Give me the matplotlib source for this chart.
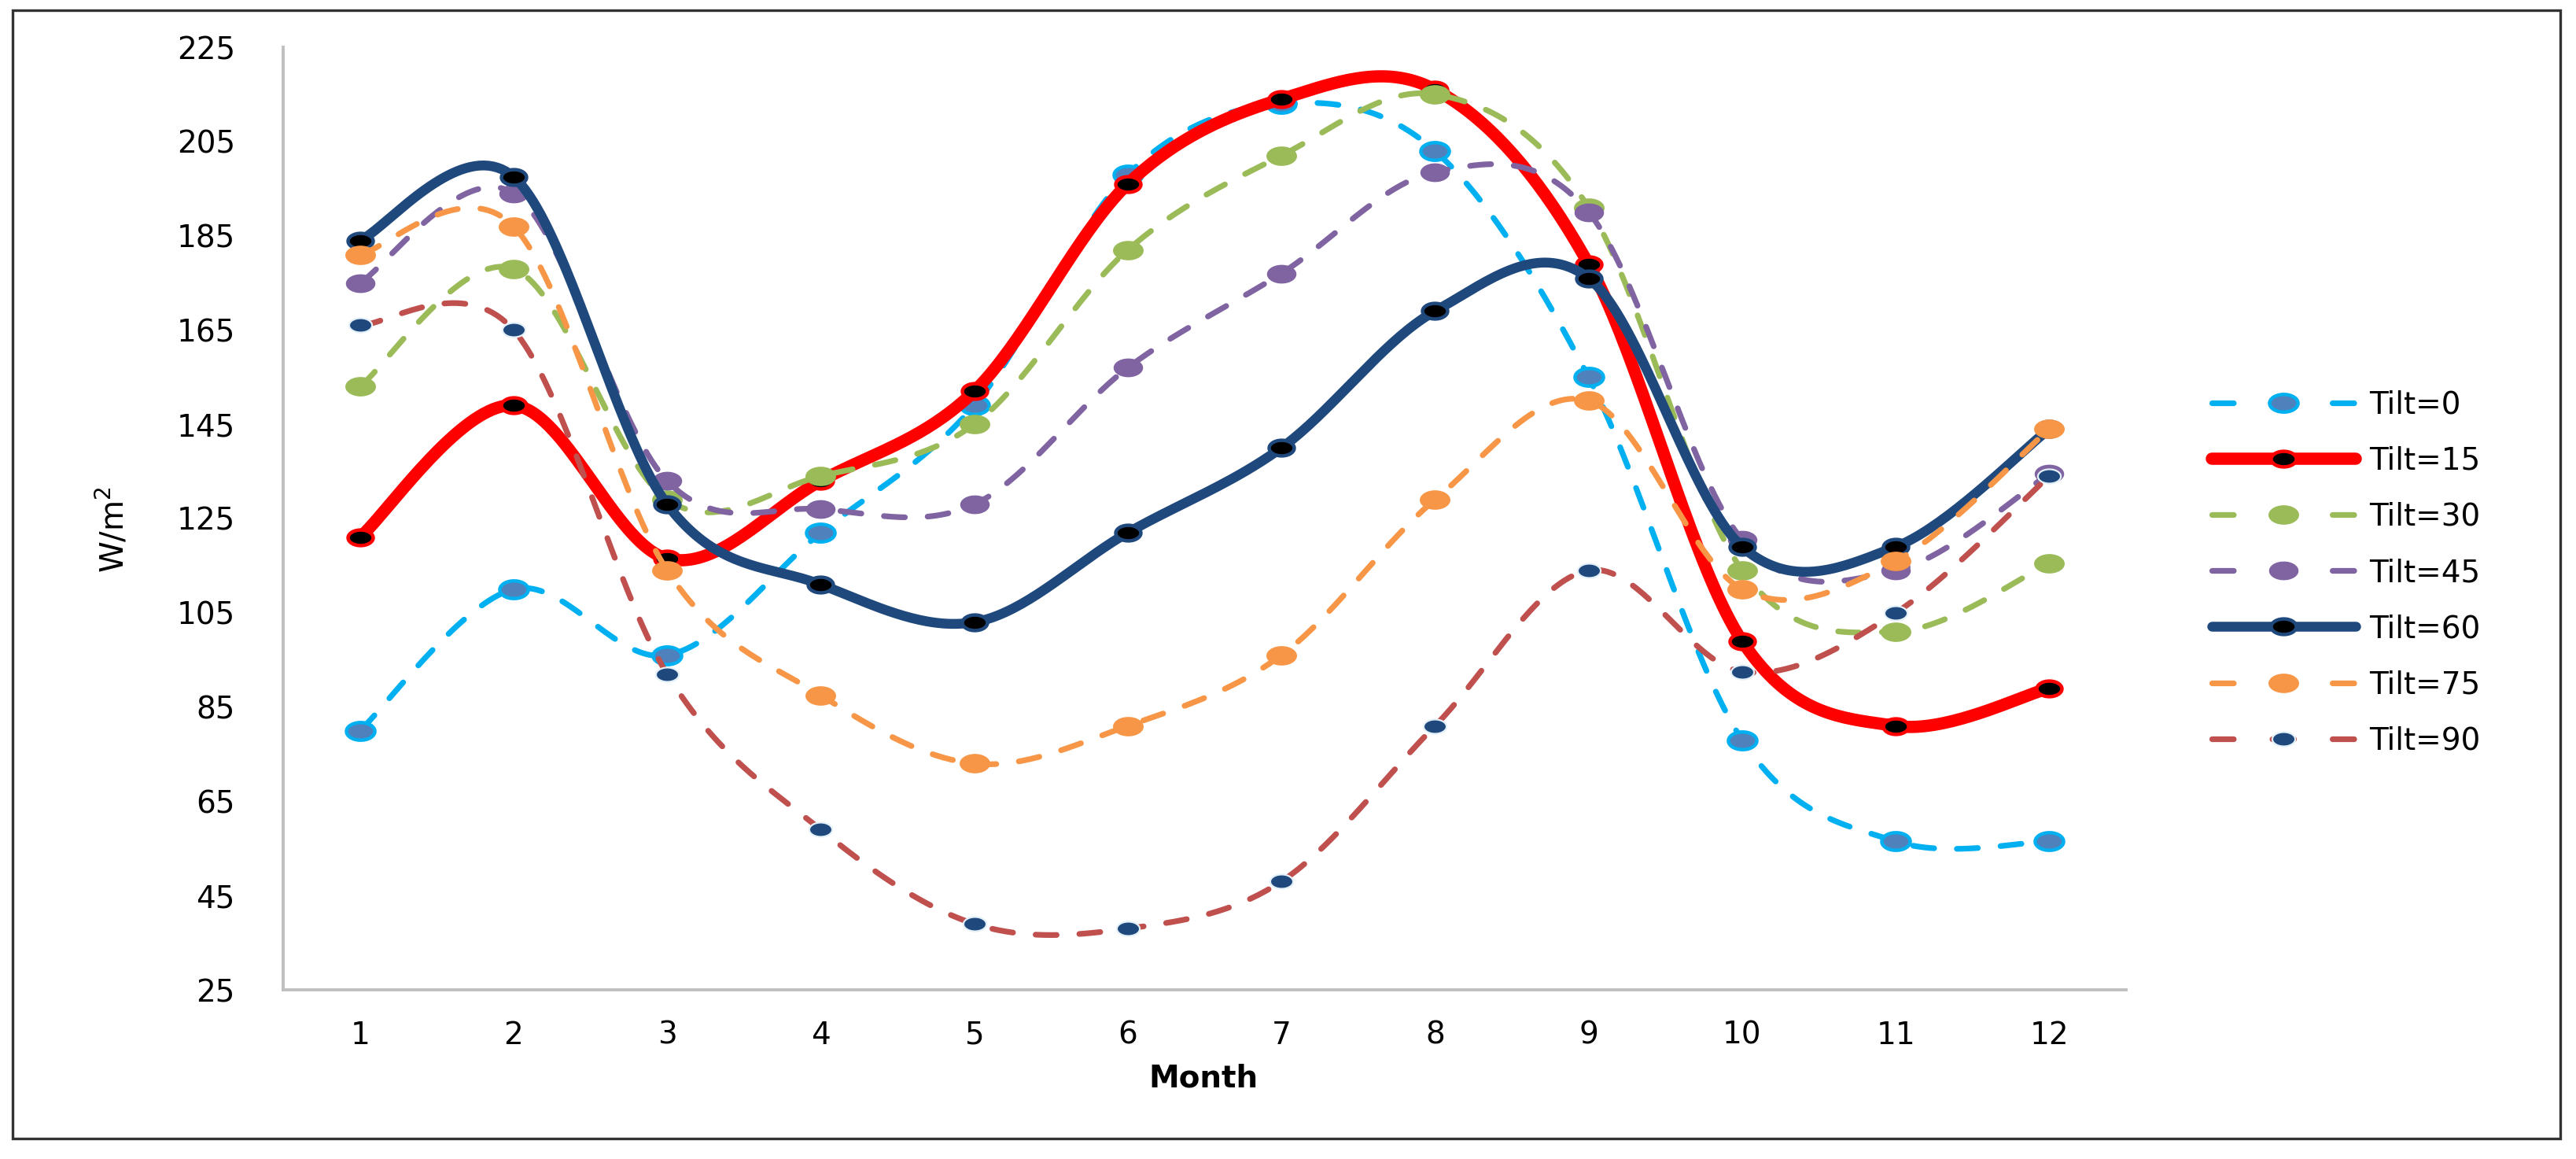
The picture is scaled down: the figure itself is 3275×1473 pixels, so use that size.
import numpy as np
import matplotlib
matplotlib.use("Agg")
import matplotlib.pyplot as plt
from matplotlib.lines import Line2D
from matplotlib.path import Path
from matplotlib.patches import Rectangle

# ---------------- data ----------------
months = [1, 2, 3, 4, 5, 6, 7, 8, 9, 10, 11, 12]
month_labels = [str(m) for m in months]
tilt_0 = [80, 110, 96, 122, 149, 198, 213, 203, 155, 78, 56.5, 56.5]
tilt_15 = [121, 149, 116.5, 133, 152, 196, 214, 216, 179, 99, 81, 89]
tilt_30 = [153, 178, 129, 134, 145, 182, 202, 215, 191, 114, 101, 115.5]
tilt_45 = [175, 194, 133, 127, 128, 157, 177, 198.5, 190, 120.5, 114, 134.5]
tilt_60 = [184, 197.5, 128, 111, 103, 122, 140, 169, 176, 119, 119, 144]
tilt_75 = [181, 187, 114, 87.5, 73, 81, 96, 129, 150, 110, 116, 144]
tilt_90 = [166, 165, 92, 59, 39, 38, 48, 81, 114, 92.5, 105, 134]
series_names = ["Tilt=0", "Tilt=15", "Tilt=30", "Tilt=45", "Tilt=60", "Tilt=75", "Tilt=90"]
y_ticks = [25, 45, 65, 85, 105, 125, 145, 165, 185, 205, 225]

series = [tilt_0, tilt_15, tilt_30, tilt_45, tilt_60, tilt_75, tilt_90]

# style per series: line colour, lw, dashed, marker face, marker edge, ms, mew
styles = [
    dict(color="#00B0F0", lw=2.6, dashed=True, mfc="#4F81BD", mec="#00B0F0", ms=13.0, mew=1.6),
    dict(color="#FF0000", lw=5.6, dashed=False, mfc="#000000", mec="#FF0000", ms=11.5, mew=1.6),
    dict(color="#9BBB59", lw=2.6, dashed=True, mfc="#9BBB59", mec="#9BBB59", ms=13.5, mew=0.5),
    dict(color="#8064A2", lw=2.6, dashed=True, mfc="#8064A2", mec="#8064A2", ms=13.0, mew=0.5),
    dict(color="#1F497D", lw=4.5, dashed=False, mfc="#000000", mec="#1F497D", ms=11.5, mew=1.6),
    dict(color="#F79646", lw=2.6, dashed=True, mfc="#F79646", mec="#F79646", ms=13.5, mew=0.5),
    dict(color="#C0504D", lw=2.6, dashed=True, mfc="#1F497D", mec="#E4F0F8", ms=10.5, mew=0.8),
]

# elliptical marker (the reference image is horizontally stretched)
theta = np.linspace(0, 2 * np.pi, 60)
ell_verts = np.column_stack([np.cos(theta), 0.62 * np.sin(theta)])
ellipse_marker = Path(ell_verts, closed=True)


def smooth_curve(x, y, n=40):
    """Excel-like smoothed line: Catmull-Rom cubic Bezier through the points."""
    x = np.asarray(x, float)
    y = np.asarray(y, float)
    P = np.column_stack([x, y])
    Pe = np.vstack([P[0], P, P[-1]])
    t = np.linspace(0, 1, n)[:, None]
    pts = []
    for i in range(len(P) - 1):
        p0 = Pe[i + 1]
        p3 = Pe[i + 2]
        c1 = p0 + (Pe[i + 2] - Pe[i]) / 6.0
        c2 = p3 - (Pe[i + 3] - Pe[i + 1]) / 6.0
        seg = ((1 - t) ** 3) * p0 + 3 * ((1 - t) ** 2) * t * c1 + 3 * (1 - t) * t ** 2 * c2 + t ** 3 * p3
        pts.append(seg if i == 0 else seg[1:])
    pts = np.vstack(pts)
    return pts[:, 0], pts[:, 1]


W, H = 3275, 1473
DPI = 200
fig = plt.figure(figsize=(W / DPI, H / DPI), dpi=DPI)
fig.patch.set_facecolor("white")

ax = fig.add_axes([360 / W, (H - 1258) / H, (2703 - 360) / W, (1258 - 60) / H])
ax.set_xlim(0.5, 12.5)
ax.set_ylim(25, 225)

handles = []
for k, (vals, st, name) in enumerate(zip(series, styles, series_names)):
    xs, ys = smooth_curve(months, vals)
    if st["dashed"]:
        ls_kw = dict(linestyle=(0, (3.7, 4.0)), dash_capstyle="round")
        leg_kw = dict(linestyle=(0, (3.8, 6.8)), dash_capstyle="round")
    else:
        ls_kw = dict(linestyle="-", solid_capstyle="round")
        leg_kw = ls_kw
    z = 3 + k
    ax.plot(xs, ys, color=st["color"], lw=st["lw"], zorder=z, **ls_kw)
    ax.plot(months, vals, linestyle="none", marker=ellipse_marker, ms=st["ms"],
            mfc=st["mfc"], mec=st["mec"], mew=st["mew"], zorder=z + 0.5)
    handles.append(Line2D([0], [0], color=st["color"], lw=st["lw"], marker=ellipse_marker,
                          ms=st["ms"], mfc=st["mfc"], mec=st["mec"], mew=st["mew"], **leg_kw))

ax.set_xticks(months)
ax.set_xticklabels(month_labels)
ax.set_yticks(y_ticks)
ax.tick_params(axis="both", length=0, labelsize=14, colors="#000000")
ax.tick_params(axis="x", pad=14)
ax.tick_params(axis="y", pad=22)
for s in ["top", "right"]:
    ax.spines[s].set_visible(False)
for s in ["left", "bottom"]:
    ax.spines[s].set_color("#BFBFBF")
    ax.spines[s].set_linewidth(1.4)

fig.text(144 / W, 1 - 673 / H, "W/m$^2$", rotation=90, ha="center", va="center", fontsize=14.5)
fig.text(1530 / W, 1 - 1371 / H, "Month", ha="center", va="center", fontsize=14, fontweight="bold")

leg = fig.legend(handles, series_names, loc="center left",
                 bbox_to_anchor=(2812 / W, 1 - 728 / H), frameon=False, fontsize=14,
                 handlelength=4.7, handletextpad=0.45, labelspacing=0.85,
                 borderpad=0, borderaxespad=0, numpoints=1)

# outer frame
fig.patches.append(Rectangle((16 / W, 1 - 1447 / H), (3255 - 16) / W, (1447 - 13) / H,
                             transform=fig.transFigure, fill=False, edgecolor="#333333",
                             linewidth=1.2, zorder=10))

fig.savefig("out.png", dpi=DPI, facecolor="white")
